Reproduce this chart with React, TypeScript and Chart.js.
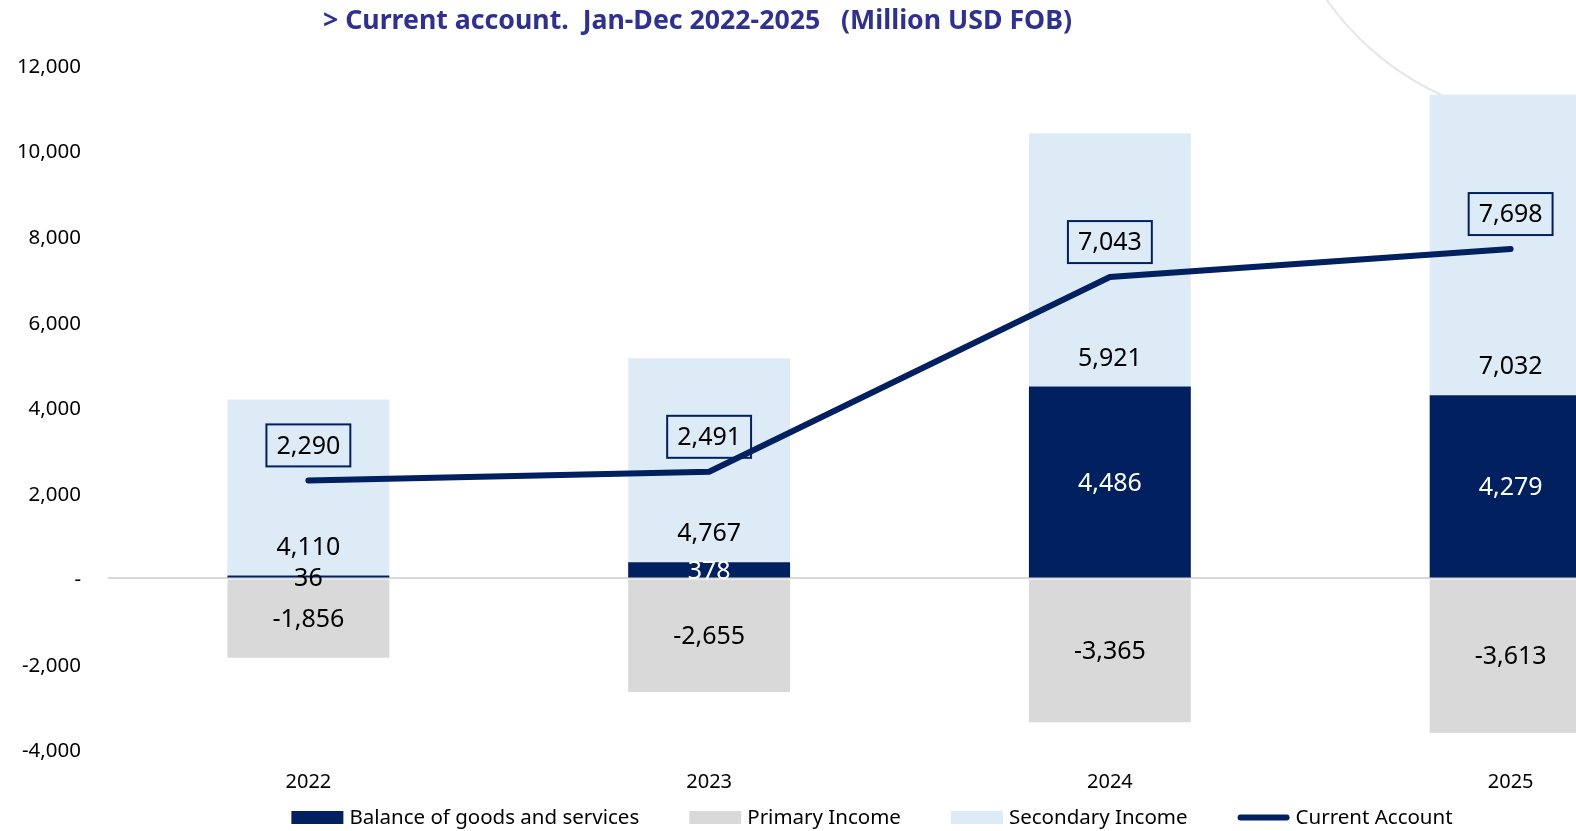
import React, { useEffect, useRef } from 'react';
import { Chart, registerables } from 'chart.js';

Chart.register(...registerables);

// ---- data ----
const years = ['2022', '2023', '2024', '2025'];
const balanceGoodsServices = [36, 378, 4486, 4279];
const primaryIncome = [-1856, -2655, -3365, -3613];
const secondaryIncome = [4110, 4767, 5921, 7032];
const currentAccount = [2290, 2491, 7043, 7698];
const yTicks = [-4000, -2000, 0, 2000, 4000, 6000, 8000, 10000, 12000];
const balanceLabelColors = ['#000000', '#FFFFFF', '#FFFFFF', '#FFFFFF'];
const seriesNames = ['Balance of goods and services', 'Primary Income', 'Secondary Income', 'Current Account'];
const titleText = '> Current account.  Jan-Dec 2022-2025   (Million USD FOB)';

// ---- style ----
const NAVY = '#002060';
const GRAY = '#D9D9D9';
const LIGHT = '#DDEBF7';
const FONT = "'Noto Sans', 'DejaVu Sans', sans-serif";
const CANVAS_W = 1720;
const CANVAS_H = 831;

const fmt = (v: number) => (v === 0 ? '-' : Math.round(v).toLocaleString('en-US'));

const labelPlugin = {
  id: 'valueLabels',
  beforeDatasetDraw(chart: any, args: any) {
    if (args.index !== 3) return;
    const ctx = chart.ctx;
    ctx.save();
    ctx.font = `25px ${FONT}`;
    ctx.textAlign = 'center';
    ctx.textBaseline = 'middle';
    chart.data.datasets.forEach((ds: any, di: number) => {
      const meta = chart.getDatasetMeta(di);
      meta.data.forEach((el: any, i: number) => {
        const v = ds.data[i] as number;
        const text = fmt(v);
        if (di === 0) {
          ctx.fillStyle = balanceLabelColors[i];
          ctx.fillText(text, el.x, (el.y + el.base) / 2 + 2);
        } else if (di === 1) {
          ctx.fillStyle = '#000';
          ctx.fillText(text, el.x, (el.y + el.base) / 2 + 1);
        } else if (di === 2) {
          ctx.fillStyle = '#000';
          ctx.fillText(text, el.x, el.base - 28);
        } else if (di === 3) {
          const cy = el.y - 35;
          const w = ctx.measureText(text).width + 20;
          const h = 42;
          ctx.strokeStyle = NAVY;
          ctx.lineWidth = 2;
          ctx.strokeRect(el.x - w / 2, cy - h / 2, w, h);
          ctx.fillStyle = '#000';
          ctx.fillText(text, el.x, cy + 1);
        }
      });
    });
    ctx.restore();
  },
};

const legendPlugin = {
  id: 'customLegend',
  afterDraw(chart: any) {
    const ctx = chart.ctx;
    ctx.save();
    ctx.font = `20.5px ${FONT}`;
    ctx.textBaseline = 'middle';
    ctx.textAlign = 'left';
    const boxW = 52;
    const boxH = 13;
    const gapText = 6;
    const gapItem = 50;
    const items = chart.data.datasets.map((ds: any) => ({
      text: ds.label as string,
      color: (ds.type === 'line' ? ds.borderColor : ds.backgroundColor) as string,
      line: ds.type === 'line',
    }));
    const widths = items.map((it: any) => boxW + gapText + ctx.measureText(it.text).width);
    const total = widths.reduce((a: number, b: number) => a + b, 0) + gapItem * (items.length - 1);
    const center = (33 + chart.chartArea.right) / 2;
    let x = center - total / 2;
    const y = chart.chartArea.bottom + 68;
    items.forEach((it: any, i: number) => {
      if (it.line) {
        ctx.strokeStyle = it.color;
        ctx.lineWidth = 6;
        ctx.lineCap = 'round';
        ctx.beginPath();
        ctx.moveTo(x + 3, y);
        ctx.lineTo(x + boxW - 3, y);
        ctx.stroke();
      } else {
        ctx.fillStyle = it.color;
        ctx.fillRect(x, y - boxH / 2, boxW, boxH);
      }
      ctx.fillStyle = '#000';
      ctx.fillText(it.text, x + boxW + gapText, y + 1);
      x += widths[i] + gapItem;
    });
    ctx.restore();
  },
};

export default function App() {
  const canvasRef = useRef<HTMLCanvasElement | null>(null);

  useEffect(() => {
    if (!canvasRef.current) return;
    const chart = new Chart(canvasRef.current, {
      data: {
        labels: years,
        datasets: [
          {
            type: 'bar',
            label: seriesNames[0],
            data: balanceGoodsServices,
            backgroundColor: NAVY,
            order: 1,
            stack: 'bars',
            barPercentage: 1,
            categoryPercentage: 0.404,
            minBarLength: 3,
          },
          {
            type: 'bar',
            label: seriesNames[1],
            data: primaryIncome,
            backgroundColor: GRAY,
            order: 1,
            stack: 'bars',
            barPercentage: 1,
            categoryPercentage: 0.404,
          },
          {
            type: 'bar',
            label: seriesNames[2],
            data: secondaryIncome,
            backgroundColor: LIGHT,
            order: 1,
            stack: 'bars',
            barPercentage: 1,
            categoryPercentage: 0.404,
          },
          {
            type: 'line',
            label: seriesNames[3],
            data: currentAccount,
            borderColor: NAVY,
            backgroundColor: NAVY,
            borderWidth: 6,
            borderCapStyle: 'round',
            borderJoinStyle: 'miter',
            pointRadius: 0,
            tension: 0,
            order: 0,
            stack: 'line',
          },
        ] as any,
      },
      options: {
        responsive: false,
        animation: false,
        devicePixelRatio: 1,
        layout: { padding: { top: 65, left: 0, right: 9, bottom: 16.5 } },
        plugins: {
          legend: { display: false },
          title: { display: false },
          tooltip: { enabled: false },
        },
        scales: {
          x: {
            stacked: true,
            grid: { display: false, drawTicks: false },
            border: { display: false },
            ticks: { font: { family: FONT, size: 20 }, color: '#000', padding: 20.5 },
          },
          y: {
            stacked: true,
            min: -4000,
            max: 12000,
            afterBuildTicks: (s: any) => {
              s.ticks = yTicks.map((v) => ({ value: v }));
            },
            afterFit: (s: any) => {
              s.width = 108;
            },
            ticks: {
              font: { family: FONT, size: 20.5 },
              color: '#000',
              padding: 27,
              labelOffset: 2,
              callback: (v: any) => fmt(Number(v)),
            },
            grid: {
              drawTicks: false,
              lineWidth: 2,
              color: (c: any) => (c.tick && c.tick.value === 0 ? GRAY : 'rgba(0,0,0,0)'),
            },
            border: { display: false },
          },
        },
      } as any,
      plugins: [labelPlugin, legendPlugin],
    });
    return () => chart.destroy();
  }, []);

  return (
    <div
      style={{
        position: 'absolute',
        left: 0,
        top: 0,
        width: 1576,
        height: 831,
        overflow: 'hidden',
        background: '#FFFFFF',
      }}
    >
      <div
        style={{
          position: 'absolute',
          left: 1273,
          top: -454,
          width: 576,
          height: 576,
          borderRadius: '50%',
          border: '2.5px solid #E6E6E6',
          boxSizing: 'border-box',
        }}
      />
      <canvas
        ref={canvasRef}
        width={CANVAS_W}
        height={CANVAS_H}
        style={{ position: 'absolute', left: 0, top: 0, display: 'block' }}
      />
      <div
        style={{
          position: 'absolute',
          left: 323,
          top: 0,
          whiteSpace: 'pre',
          fontFamily: FONT,
          fontWeight: 700,
          fontSize: 26.7,
          color: '#2E3192',
          lineHeight: '38px',
        }}
      >
        {titleText}
      </div>
    </div>
  );
}
